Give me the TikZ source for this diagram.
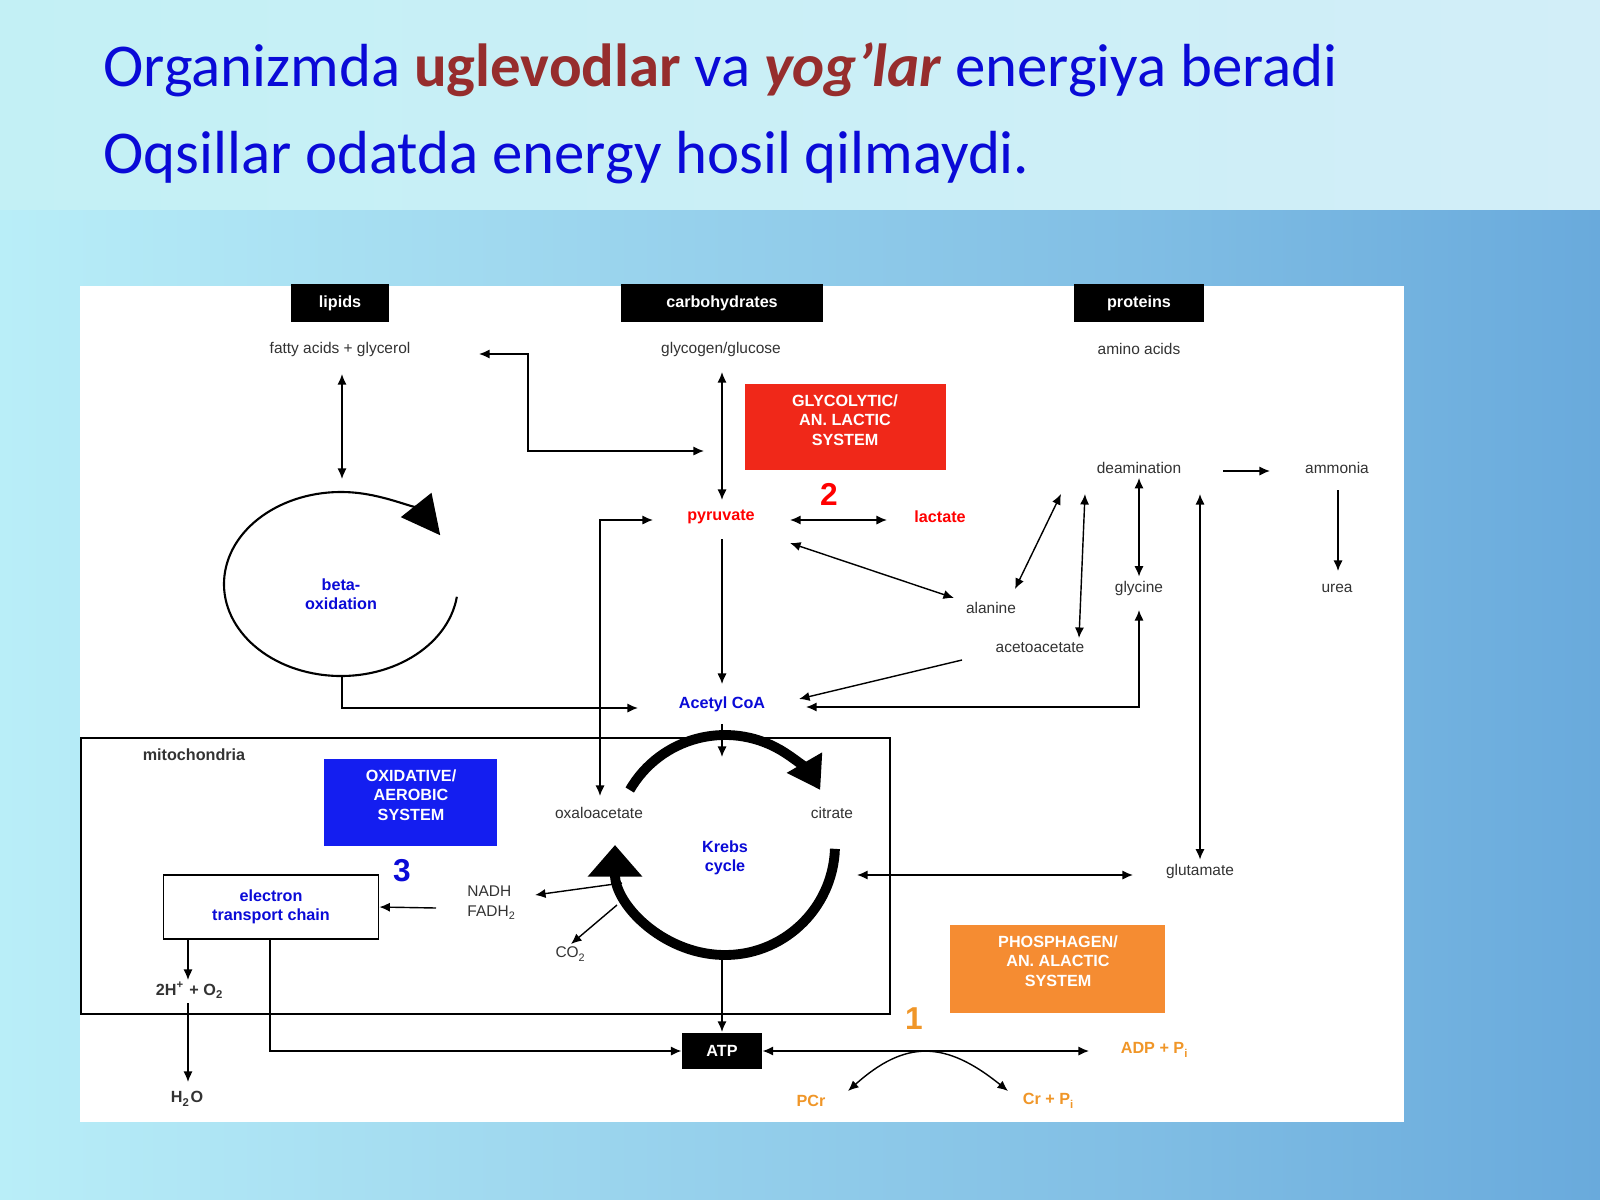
\documentclass[tikz,border=0pt]{standalone}
\usepackage{fontspec}
\setmainfont{Liberation Sans}
\newfontfamily\titlefont{Carlito}
\usetikzlibrary{arrows.meta,shapes.geometric}
\definecolor{deepblue}{RGB}{10,10,215}
\definecolor{titlered}{RGB}{150,45,45}
\definecolor{glycred}{RGB}{240,40,25}
\definecolor{oxblue}{RGB}{20,30,240}
\definecolor{phosorange}{RGB}{245,140,50}
\definecolor{txtorange}{RGB}{240,150,40}
\definecolor{bgtopl}{RGB}{195,240,245}
\definecolor{bgtopr}{RGB}{210,238,248}
\definecolor{bgleft}{RGB}{185,238,248}
\definecolor{bgright}{RGB}{105,170,220}
\tikzset{
    lbl/.style={font=\fontsize{4.4}{5.5}\selectfont, text=black!80, align=center, inner sep=1pt},
    blbl/.style={font=\fontsize{4.6}{5.5}\selectfont\bfseries, text=deepblue, align=center},
    olbl/.style={font=\fontsize{4.6}{5.5}\selectfont\bfseries, text=txtorange, inner sep=1pt},
    head/.style={fill=black, text=white, font=\fontsize{4.6}{5.5}\selectfont\bfseries, minimum height=10.5pt},
    sysbox/.style={text=white, font=\fontsize{4.6}{5.5}\selectfont\bfseries, align=center},
    num/.style={font=\fontsize{9}{10}\selectfont\bfseries},
    con/.style={line width=0.4pt, {Latex[length=3pt,width=2.6pt]}-{Latex[length=3pt,width=2.6pt]}},
    one/.style={line width=0.4pt, -{Latex[length=3pt,width=2.6pt]}},
}
\begin{document}
\begin{tikzpicture}[x=0.01cm, y=-0.01cm]
    % background
    \shade[left color=bgtopl, right color=bgtopr] (0,0) rectangle (1600,210);
    \shade[left color=bgleft, right color=bgright] (0,210) rectangle (1600,1200);
    \fill[white] (80,286) rectangle (1404,1122);

    % title
    \node[anchor=west, font=\titlefont\fontsize{17.3}{20}\selectfont, text=deepblue] (t1) at (91,70)
        {Organizmda \textbf{\color{titlered}uglevodlar} va \textbf{\textit{\color{titlered}yog’lar}} energiya beradi};
    \node[anchor=west, font=\titlefont\fontsize{17.3}{20}\selectfont, text=deepblue] (t2) at (91,158)
        {Oqsillar odatda energy hosil qilmaydi.};

    % headers
    \node[head, minimum width=98*0.283pt] (lip) at (340,303) {lipids};
    \node[head, minimum width=202*0.283pt] (carb) at (722,303) {carbohydrates};
    \node[head, minimum width=130*0.283pt] (prot) at (1139,303) {proteins};

    \node[lbl] (fat) at (340,349) {fatty acids + glycerol};
    \node[lbl] (glyc) at (721,349) {glycogen/glucose};
    \node[lbl] (amino) at (1139,349) {amino acids};

    % system boxes
    \fill[glycred] (745,384) rectangle (946,470);
    \node[sysbox] (glysys) at (845,420) {GLYCOLYTIC/\\AN. LACTIC\\SYSTEM};
    \fill[oxblue] (324,759) rectangle (497,846);
    \node[sysbox] (oxsys) at (411,795) {OXIDATIVE/\\AEROBIC\\SYSTEM};
    \fill[phosorange] (950,925) rectangle (1165,1013);
    \node[sysbox] (phsys) at (1058,961) {PHOSPHAGEN/\\AN. ALACTIC\\SYSTEM};

    % labels
    \node[lbl, text=red, font=\fontsize{4.6}{5.5}\selectfont\bfseries] (pyr) at (721,517) {pyruvate};
    \node[lbl, text=red, font=\fontsize{4.6}{5.5}\selectfont\bfseries] (lac) at (940,517) {lactate};
    \node[num, text=red] (two) at (829,494) {2};
    \node[lbl] (deam) at (1139,468) {deamination};
    \node[lbl] (amm) at (1337,468) {ammonia};
    \node[lbl] (urea) at (1337,588) {urea};
    \node[lbl] (gly) at (1139,588) {glycine};
    \node[lbl] (ala) at (991,608) {alanine};
    \node[lbl] (aceto) at (1040,648) {acetoacetate};
    \node[blbl] (acoa) at (722,704) {Acetyl CoA};
    \node[blbl] (beta) at (341,594) {beta-\\oxidation};

    % mitochondria
    \draw[line width=0.5pt] (81,738) rectangle (890,1014);
    \node[lbl, font=\fontsize{4.6}{5.5}\selectfont\bfseries, anchor=center] (mito) at (194,755) {mitochondria};
    \node[lbl] (oxa) at (599,813) {oxaloacetate};
    \node[lbl] (cit) at (832,813) {citrate};
    \node[blbl] (krebs) at (725,858) {Krebs\\cycle};
    \node[draw, line width=0.5pt, minimum width=216*0.283pt, minimum height=64*0.283pt, blbl] (etc) at (271,907) {electron\\transport chain};
    \node[num, text=deepblue] (three) at (402,871) {3};
    \node[lbl, align=left] (nadh) at (492,903) {NADH\\FADH\textsubscript{2}};
    \node[lbl] (co2) at (571,954) {CO\textsubscript{2}};
    \node[lbl, font=\fontsize{4.6}{5.5}\selectfont\bfseries] (hyd) at (190,990) {2H\textsuperscript{+} + O\textsubscript{2}};
    \node[lbl, font=\fontsize{4.6}{5.5}\selectfont\bfseries] (water) at (187,1099) {H\textsubscript{2}O};
    \node[lbl] (glut) at (1200,871) {glutamate};

    % ATP
    \node[head, minimum width=80*0.283pt, minimum height=37*0.283pt] (atp) at (722,1051) {ATP};
    \node[olbl] (adp) at (1155,1050) {ADP + P\textsubscript{i}};
    \node[olbl] (pcr) at (811,1101) {PCr};
    \node[olbl] (cr) at (1049,1101) {Cr + P\textsubscript{i}};
    \node[num, text=txtorange] (oneno) at (914,1019) {1};

    % cycles
    \draw[line width=0.6pt, -{Triangle[length=11pt,width=11pt]}] (341,584) ++(8:117 and 92) arc[start angle=8, end angle=328, x radius=117, y radius=92];
    \draw[line width=2.8pt, -{Triangle[length=9pt,width=11pt]}] (725,845) ++(-150:110) arc[start angle=-150, end angle=-30, radius=110];
    \draw[line width=2.8pt, -{Triangle[length=9pt,width=15pt]}] (725,845) ++(2:110) arc[start angle=2, end angle=180, radius=110];

    % connectors
    \coordinate (fatbot) at (342,374);
    \coordinate (betatop) at (342,479);
    \draw[con] (fatbot) -- (betatop);
    \coordinate (glyL) at (704,451);
    \coordinate (fatR) at (479,354);
    \draw[con] (glyL) -| (528,451) |- (fatR);
    \coordinate (gs) at (722,372);
    \coordinate (pn) at (722,500);
    \draw[con] (gs) -- (pn);
    \coordinate (pe) at (790,520);
    \coordinate (lw) at (887,520);
    \draw[con] (pe) -- (lw);
    \coordinate (pyse) at (790,543);
    \coordinate (alanw) at (954,598);
    \draw[con] (pyse) -- (alanw);
    \coordinate (pys) at (722,539);
    \draw[one] (pys) -- (acoa.north);
    \coordinate (ane) at (1015,589);
    \draw[con] (ane) -- (1061,494);
    \draw[con] (1079,638) -- (1085,494);
    \draw[con] (deam.south) -- (gly.north);
    \draw[one] (1223,471) -- (1270,471);
    \coordinate (amms) at (1338,490);
    \draw[one] (amms) -- (1338,571);
    \draw[con] (1200,494) -- (glut.north);
    \draw[one] (962,660) -- (799,699);
    \coordinate (glys) at (1139,610);
    \draw[con] (glys) -- (1139,707) -- (806,707);
    \coordinate (betabot) at (342,676);
    \draw[one] (betabot) |- (638,708);
    \draw[con] (600,796) |- (653,520);
    \draw[one] (acoa.south) -- (722,757);
    \draw[one] (722,955) -- (atp.north);
    \draw[con] (857,875) -- (1133,875);
    \draw[one] (622,883) -- (535,895);
    \draw[one] (617,905) -- (571,944);
    \draw[one] (436,908) -- (etc.east);
    \draw[one] (188,939) -- (188,980);
    \draw[one] (188,1003) -- (188,1082);
    \draw[one] (270,939) |- (atp.west);
    \draw[con] (atp.east) -- (1089,1051);
    \draw[con] (848,1091) .. controls (905,1040) and (945,1040) .. (1008,1091);
\end{tikzpicture}
\end{document}
